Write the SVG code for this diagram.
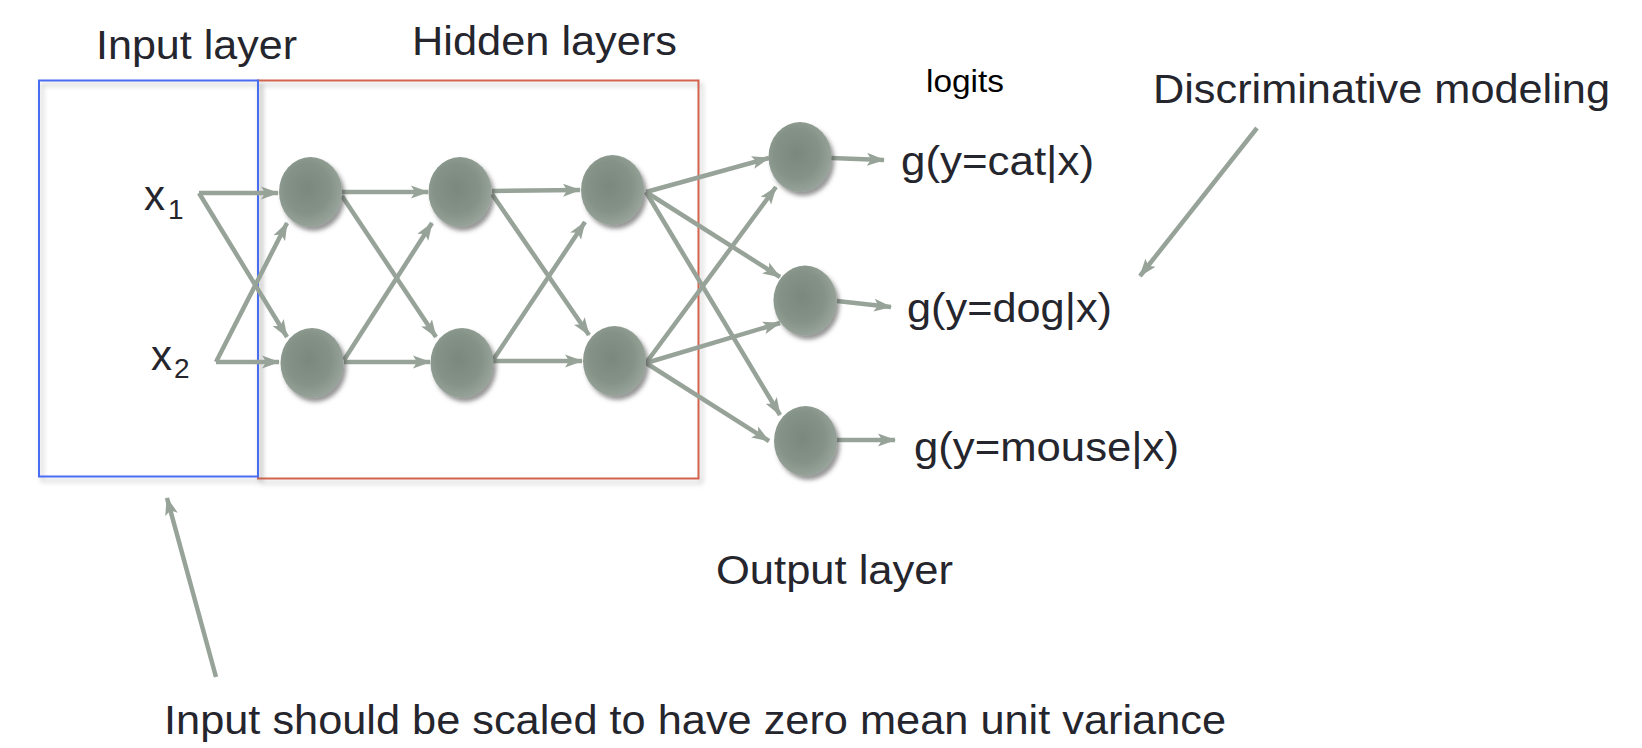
<svg xmlns="http://www.w3.org/2000/svg" width="1642" height="748" viewBox="0 0 1642 748">
<defs>
<style>
.t{font-family:"Liberation Sans",Arial,sans-serif;fill:#25252d}
.e{stroke:#97a398;stroke-width:4.5;fill:none;marker-end:url(#ah)}
.n{fill:url(#ng);filter:url(#ns)}
</style>
<radialGradient id="ng" cx="0.45" cy="0.45" r="0.6">
<stop offset="0" stop-color="#7b887e"/>
<stop offset="0.6" stop-color="#859287"/>
<stop offset="1" stop-color="#9ba79e"/>
</radialGradient>
<filter id="ns" x="-30%" y="-30%" width="170%" height="170%">
<feDropShadow dx="3" dy="4" stdDeviation="2" flood-color="#3c3c3c" flood-opacity="0.55"/>
</filter>
<filter id="bs" x="-5%" y="-5%" width="115%" height="115%">
<feDropShadow dx="3" dy="4" stdDeviation="2.5" flood-color="#777" flood-opacity="0.45"/>
</filter>
<marker id="ah" markerUnits="userSpaceOnUse" markerWidth="18" markerHeight="14" viewBox="0 0 18 14" refX="17" refY="7" orient="auto">
<path d="M0,0.5 L18,7 L0,13.5 L4,7 z" fill="#97a398"/>
</marker>
</defs>
<rect width="1642" height="748" fill="#ffffff"/>

<g id="hidden-box">
<rect x="258" y="80.5" width="440.5" height="398" fill="none" stroke="#d3644e" stroke-width="2" filter="url(#bs)"/>
</g>
<g id="input-box">
<rect x="39" y="80.5" width="219" height="396" fill="none" stroke="#4a6df2" stroke-width="2" filter="url(#bs)"/>
</g>

<g id="connectors">
<path class="e" d="M199,193 L278,193"/>
<path class="e" d="M199,193 L287,337"/>
<path class="e" d="M216,362 L279,362"/>
<path class="e" d="M216,362 L287,223"/>
<path class="e" d="M342,192 L428,192"/>
<path class="e" d="M342,196 L436,337"/>
<path class="e" d="M344,360 L432,223"/>
<path class="e" d="M344,362 L430,362"/>
<path class="e" d="M492,191 L580,190"/>
<path class="e" d="M492,194 L589,335"/>
<path class="e" d="M493,360 L585,222"/>
<path class="e" d="M493,361 L582,361"/>
<path class="e" d="M646,192 L769,158"/>
<path class="e" d="M646,192 L780,277"/>
<path class="e" d="M646,192 L780,415"/>
<path class="e" d="M646,363 L776,187"/>
<path class="e" d="M646,363 L780,323"/>
<path class="e" d="M646,363 L769,441"/>
<path class="e" d="M831,158 L884,160"/>
<path class="e" d="M837,301 L891,307"/>
<path class="e" d="M837,440 L895,440"/>
<path class="e" d="M1257,128 L1140,276"/>
<path class="e" d="M216,677 L167,498"/>
</g>

<g id="x1"><text class="t" x="144" y="210" font-size="42">x</text><text class="t" x="168" y="219" font-size="28">1</text></g>
<g id="x2"><text class="t" x="151" y="370" font-size="42">x</text><text class="t" x="174" y="378" font-size="28">2</text></g>

<g id="h1a"><ellipse class="n" cx="310.5" cy="192" rx="31.5" ry="35"/></g>
<g id="h1b"><ellipse class="n" cx="312" cy="363" rx="31.5" ry="35"/></g>
<g id="h2a"><ellipse class="n" cx="460" cy="192" rx="31.5" ry="35"/></g>
<g id="h2b"><ellipse class="n" cx="462" cy="363" rx="31.5" ry="35"/></g>
<g id="h3a"><ellipse class="n" cx="612.5" cy="190" rx="31.5" ry="35"/></g>
<g id="h3b"><ellipse class="n" cx="614.5" cy="361" rx="31.5" ry="35"/></g>
<g id="o-cat"><ellipse class="n" cx="800" cy="157" rx="31.5" ry="35"/></g>
<g id="o-dog"><ellipse class="n" cx="805" cy="300.5" rx="31.5" ry="35"/></g>
<g id="o-mouse"><ellipse class="n" cx="805.5" cy="441" rx="31.5" ry="35"/></g>

<g id="labels">
<text class="t" x="96" y="59" font-size="40" textLength="201" lengthAdjust="spacingAndGlyphs">Input layer</text>
<text class="t" x="412" y="54.5" font-size="41" textLength="265" lengthAdjust="spacingAndGlyphs">Hidden layers</text>
<text x="926" y="91.5" font-size="32" textLength="78" lengthAdjust="spacingAndGlyphs" style="font-family:'Liberation Sans',Arial,sans-serif;fill:#000">logits</text>
<text class="t" x="1153" y="103" font-size="41" textLength="457" lengthAdjust="spacingAndGlyphs">Discriminative modeling</text>
<text class="t" x="901" y="175" font-size="40" textLength="193" lengthAdjust="spacingAndGlyphs">g(y=cat|x)</text>
<text class="t" x="907" y="322" font-size="40" textLength="205" lengthAdjust="spacingAndGlyphs">g(y=dog|x)</text>
<text class="t" x="914" y="461" font-size="40" textLength="265" lengthAdjust="spacingAndGlyphs">g(y=mouse|x)</text>
<text class="t" x="716" y="584" font-size="40" textLength="237" lengthAdjust="spacingAndGlyphs">Output layer</text>
<text class="t" x="164" y="734" font-size="41" textLength="1062" lengthAdjust="spacingAndGlyphs">Input should be scaled to have zero mean unit variance</text>
</g>
</svg>
